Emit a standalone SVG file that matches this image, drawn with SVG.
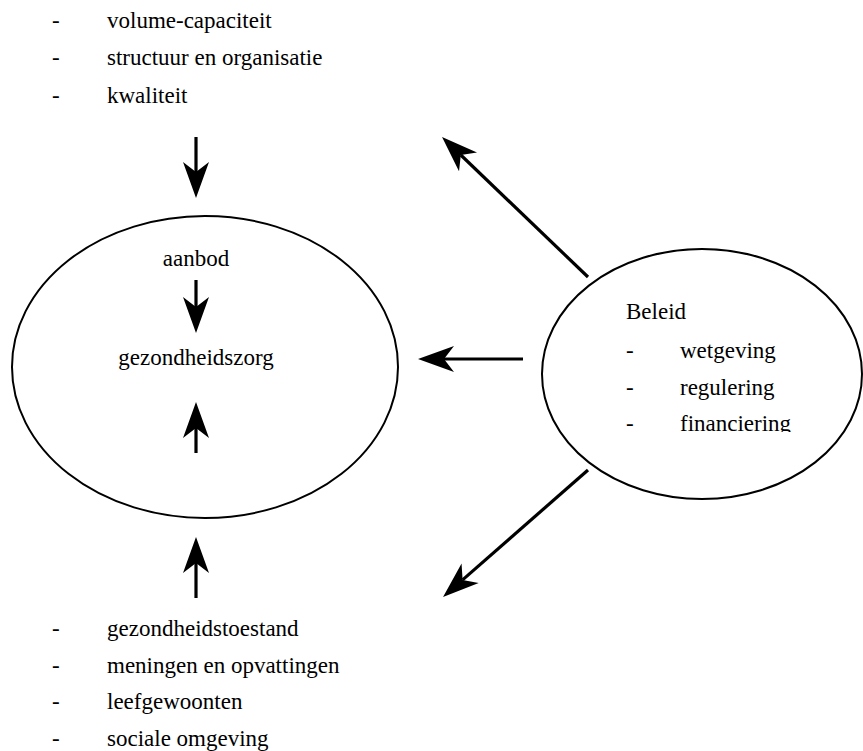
<svg xmlns="http://www.w3.org/2000/svg" width="863" height="751" viewBox="0 0 863 751">
<style>
text{font-family:"Liberation Serif","Times New Roman",serif;font-size:23px;fill:#000}
.ell{fill:none;stroke:#000;stroke-width:2}
.arr{fill:none;stroke:#000;stroke-width:3.2;marker-end:url(#head)}
</style>
<defs>
<marker id="head" viewBox="-11 -14 38 28" markerWidth="38" markerHeight="28" refX="0" refY="0" orient="auto" markerUnits="userSpaceOnUse">
<path d="M26,0 L-10,-13 L0,0 L-10,13 Z" fill="#000"/>
</marker>
<clipPath id="clipB"><rect x="540" y="240" width="323" height="192"/></clipPath>
</defs>
<rect width="863" height="751" fill="#fff"/>
<g id="top-list">
<text x="52" y="28">-</text><text x="107" y="28">volume-capaciteit</text>
<text x="52" y="65">-</text><text x="107" y="65">structuur en organisatie</text>
<text x="52" y="103">-</text><text x="107" y="103">kwaliteit</text>
</g>
<g id="zorg">
<ellipse class="ell" cx="205" cy="367" rx="193" ry="151"/>
<text x="196" y="266" text-anchor="middle">aanbod</text>
<text x="196" y="365" text-anchor="middle">gezondheidszorg</text>
</g>
<g id="beleid">
<ellipse class="ell" cx="702" cy="374" rx="160" ry="125"/>
<text x="626" y="319">Beleid</text>
<g clip-path="url(#clipB)">
<text x="626" y="358">-</text><text x="680" y="358">wetgeving</text>
<text x="626" y="395">-</text><text x="680" y="395">regulering</text>
<text x="626" y="431">-</text><text x="680" y="431">financiering</text>
</g>
</g>
<g id="bottom-list">
<text x="52" y="636">-</text><text x="107" y="636">gezondheidstoestand</text>
<text x="52" y="673">-</text><text x="107" y="673">meningen en opvattingen</text>
<text x="52" y="709">-</text><text x="107" y="709">leefgewoonten</text>
<text x="52" y="746">-</text><text x="107" y="746">sociale omgeving</text>
</g>
<g id="connectors">
<path class="arr" d="M196,137 L196,172"/>
<path class="arr" d="M196,280 L196,307"/>
<path class="arr" d="M196,453 L196,428"/>
<path class="arr" d="M196,598 L196,563"/>
<path class="arr" d="M523,359 L444,359"/>
<path class="arr" d="M588,277 L460.8,155"/>
<path class="arr" d="M588,470 L462.6,579.9"/>
</g>
</svg>
